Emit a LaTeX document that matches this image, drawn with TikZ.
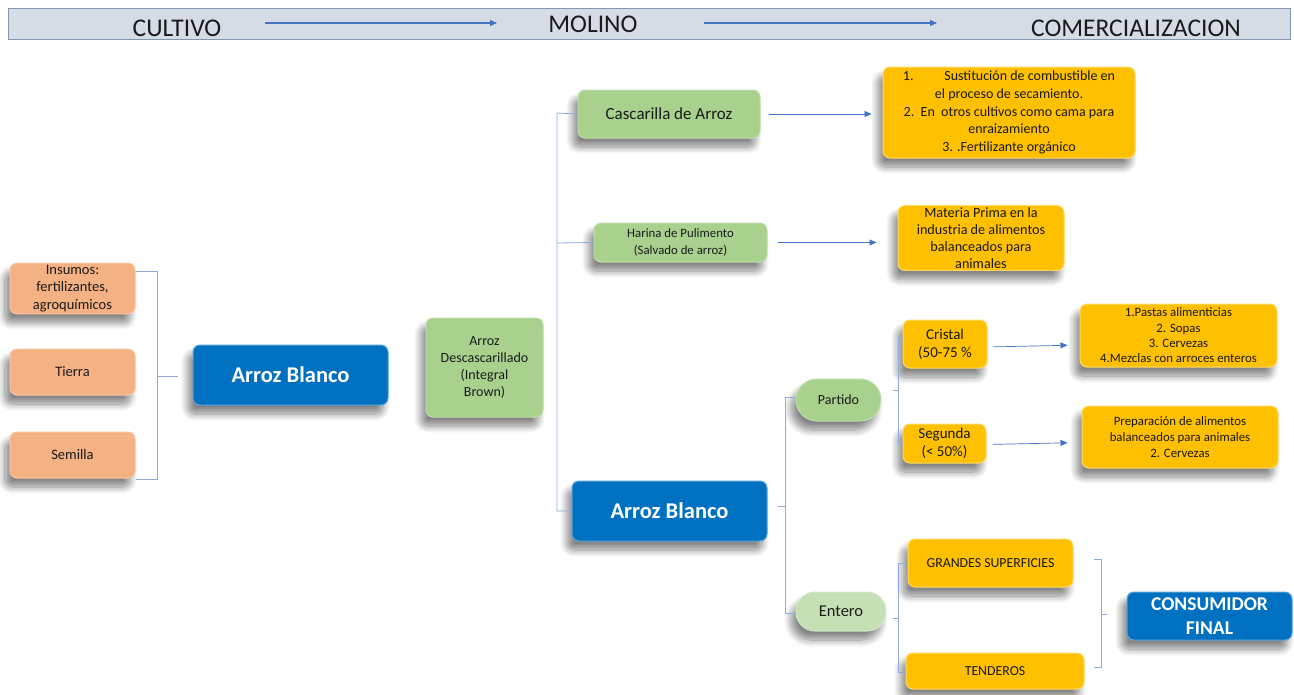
\documentclass[tikz,border=0pt]{standalone}
\usepackage{fontspec}
\setmainfont{Carlito}
\usetikzlibrary{arrows.meta,shadows.blur}

\definecolor{barfill}{HTML}{D6DCE5}
\definecolor{barline}{HTML}{8497B0}
\definecolor{arrblue}{HTML}{4472C4}
\definecolor{brkblue}{HTML}{8FAADC}
\definecolor{peach}{HTML}{F4B183}
\definecolor{leaf}{HTML}{A9D18E}
\definecolor{paleleaf}{HTML}{C5E0B4}
\definecolor{amber}{HTML}{FFC000}
\definecolor{deepblue}{HTML}{0070C0}
\definecolor{ink}{HTML}{1A1A1A}

\tikzset{
  shade/.style={blur shadow={shadow xshift=-5pt, shadow yshift=-9pt, shadow blur steps=10, shadow blur radius=7pt, shadow opacity=48}},
  card/.style={shade, rounded corners=7pt, align=center, inner sep=2pt, text=ink, line width=1pt},
  peachbox/.style={card, fill=peach, draw=peach!75!white},
  leafbox/.style={card, fill=leaf, draw=leaf!75!white},
  palebox/.style={card, fill=paleleaf, draw=paleleaf!75!white},
  amberbox/.style={card, fill=amber, draw=amber!60!white},
  bluebox/.style={card, fill=deepblue, draw=deepblue!65!white, text=white, font=\bfseries},
  flow/.style={draw=arrblue, line width=0.7pt, -{Triangle[length=7pt,width=6pt]}},
  brk/.style={draw=brkblue, line width=0.8pt},
  headtxt/.style={font=\fontsize{25.5}{28}\selectfont, text=ink, inner sep=0pt, anchor=base}
}

\begin{document}
\begin{tikzpicture}[x=1pt,y=-1pt]
\useasboundingbox (0,0) rectangle (1294,694);

% title band
\node[draw=barline, fill=barfill, line width=0.8pt, minimum width=1282pt, minimum height=31pt, inner sep=0pt] (bar) at (649,23.5) {};
\node[headtxt] (cul) at (177,36) {CULTIVO};
\node[headtxt] (mol) at (593,32) {MOLINO};
\node[headtxt] (com) at (1136,36) {COMERCIALIZACION};
\coordinate (h1s) at (265,23);
\coordinate (h1e) at (497,23);
\coordinate (h2s) at (704,23);
\coordinate (h2e) at (937,23);
\draw[flow, line width=1.2pt] (h1s) -- (h1e);
\draw[flow, line width=1.2pt] (h2s) -- (h2e);

% cultivation inputs
\node[peachbox, minimum width=125pt, minimum height=47pt, font=\fontsize{14.5}{17.5}\selectfont] (ins) at (72.5,288.5) {Insumos:\\fertilizantes,\\agroquímicos};
\node[peachbox, minimum width=125pt, minimum height=46pt, font=\fontsize{14.5}{17}\selectfont] (tie) at (72.5,372) {Tierra};
\node[peachbox, minimum width=125pt, minimum height=46pt, font=\fontsize{14.5}{17}\selectfont] (sem) at (72.5,455) {Semilla};

\node[bluebox, minimum width=195pt, minimum height=60pt, font=\bfseries\fontsize{22.5}{26}\selectfont] (ab1) at (290.5,375) {Arroz Blanco};
\node[leafbox, minimum width=117pt, minimum height=99pt, font=\fontsize{14}{17.3}\selectfont] (desc) at (484.5,367.5) {Arroz\\Descascarillado\\(Integral\\Brown)};

% mill products
\node[leafbox, minimum width=182pt, minimum height=48pt, font=\fontsize{17}{20}\selectfont] (casc) at (669,114) {Cascarilla de Arroz};
\node[leafbox, minimum width=173pt, minimum height=39pt, font=\fontsize{12.8}{17.5}\selectfont] (har) at (680.5,242.5) {Harina de Pulimento\\(Salvado de arroz)};
\node[bluebox, minimum width=195pt, minimum height=60pt, font=\bfseries\fontsize{22.5}{26}\selectfont] (ab2) at (669.5,511) {Arroz Blanco};

% uses
\node[amberbox, minimum width=252pt, minimum height=91pt, font=\fontsize{14}{17.7}\selectfont] (uso1) at (1009,112.5)
  {1.\hspace{2.2em}Sustitución de combustible en\\el proceso de secamiento.\\2.\ \ En\ \ otros cultivos como cama para\\enraizamiento\\3. .Fertilizante orgánico};
\node[amberbox, minimum width=166pt, minimum height=64pt, font=\fontsize{14.2}{17}\selectfont] (uso2) at (981,238)
  {Materia Prima en la\\industria de alimentos\\balanceados para\\animales};

% broken and whole grain
\node[leafbox, rounded corners=21pt, minimum width=85pt, minimum height=42pt, font=\fontsize{14}{16}\selectfont] (par) at (838.5,400) {Partido};
\node[palebox, rounded corners=19pt, minimum width=90pt, minimum height=39pt, font=\fontsize{16.5}{18}\selectfont] (ent) at (841,611.5) {Entero};

\node[amberbox, minimum width=84pt, minimum height=48pt, font=\fontsize{15}{18}\selectfont] (cri) at (945,344) {Cristal\\(50-75 \%};
\node[amberbox, minimum width=83pt, minimum height=39pt, font=\fontsize{15}{18}\selectfont] (seg) at (944.5,443.5) {Segunda\\(< 50\%)};

\node[amberbox, minimum width=197pt, minimum height=63pt, font=\fontsize{12.8}{15.3}\selectfont] (uso3) at (1178.5,335.5)
  {1.Pastas alimenticias\\2. Sopas\\3. Cervezas\\4.Mezclas con arroces enteros};
\node[amberbox, minimum width=196pt, minimum height=62pt, font=\fontsize{12.8}{16}\selectfont] (uso4) at (1180,437)
  {Preparación de alimentos\\balanceados para animales\\2. Cervezas};

\node[amberbox, minimum width=165pt, minimum height=48pt, font=\fontsize{13.8}{16}\selectfont] (gra) at (990.5,563) {GRANDES SUPERFICIES};
\node[amberbox, minimum width=178pt, minimum height=36pt, font=\fontsize{13.8}{15}\selectfont] (ten) at (995,671) {TENDEROS};

\node[bluebox, minimum width=165pt, minimum height=48pt, font=\bfseries\fontsize{19.5}{24}\selectfont] (con) at (1209.5,616) {CONSUMIDOR\\FINAL};

% arrows to the uses
\draw[flow, shorten <=8pt, shorten >=11pt] (casc.east) -- (uso1.west |- casc.east);
\draw[flow, shorten <=10pt, shorten >=21pt] (har.east) -- (uso2.west |- har.east);
\draw[flow, shorten <=5pt, shorten >=12pt] ([yshift=-3pt]cri.east) -- ([yshift=-1pt]uso3.west |- cri.east);
\draw[flow, shorten <=6pt, shorten >=14pt] ([yshift=-1pt]seg.east) -- ([yshift=1pt]uso4.west |- seg.east);

% brackets
\coordinate (bA) at (157,376);
\draw[brk] (ins.east |- 0,271) -- (157,271) -- (157,479) -- (sem.east |- 0,479);
\draw[brk] (bA) -- (178,376);

\coordinate (bB) at (557,113);
\draw[brk] (casc.west) -- (bB) -- (557,511) -- (ab2.west);
\draw[brk] (557,243) -- (har.west);

\coordinate (bC) at (785,506);
\draw[brk] (par.west |- 0,397) -- (785,397) -- (785,613) -- (ent.west |- 0,613);
\draw[brk] (bC) -- (778,506);

\coordinate (bD) at (898,390);
\draw[brk] (cri.west |- 0,337) -- (898,337) -- (898,444) -- (seg.west |- 0,444);
\draw[brk] (bD) -- (893,390);

\coordinate (bE) at (898,618);
\draw[brk] (905,563) -- (898,563) -- (898,672) -- (905,672);
\draw[brk] (bE) -- (893,618);

\coordinate (bF) at (1101,614);
\draw[brk] (1094,559) -- (1101,559) -- (1101,667) -- (1094,667);
\draw[brk] (bF) -- (1107,614);
\end{tikzpicture}
\end{document}
